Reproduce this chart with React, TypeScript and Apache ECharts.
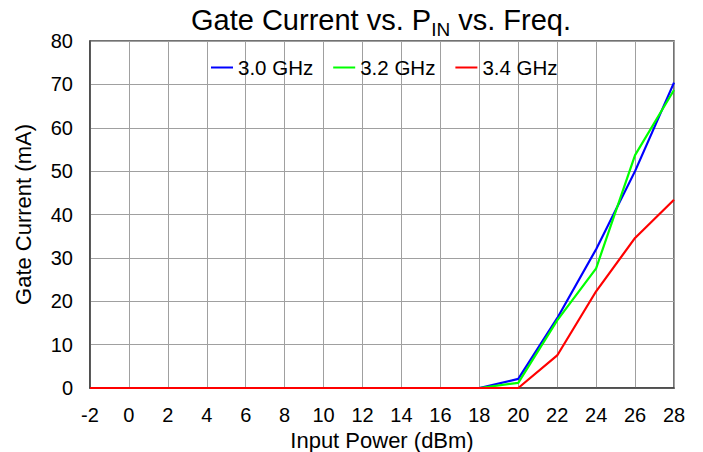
import React, { useEffect, useRef } from "react";
import * as echarts from "echarts";

const inputPower = [-2, 0, 2, 4, 6, 8, 10, 12, 14, 16, 18, 20, 22, 24, 26, 28];
const ghz30 = [0, 0, 0, 0, 0, 0, 0, 0, 0, 0, 0, 2.1, 16.1, 32.0, 50.0, 70.4];
const ghz32 = [0, 0, 0, 0, 0, 0, 0, 0, 0, 0, 0, 1.2, 15.6, 27.6, 53.7, 68.7];
const ghz34 = [0, 0, 0, 0, 0, 0, 0, 0, 0, 0, 0, 0, 7.5, 22.3, 34.6, 43.4];
const seriesNames = ["3.0 GHz", "3.2 GHz", "3.4 GHz"];
const seriesColors = ["#0000ff", "#00ff00", "#ff0000"];

const FONT = "Liberation Sans, Arial, sans-serif";

export default function App() {
  const ref = useRef<HTMLDivElement>(null);
  useEffect(() => {
    if (!ref.current) return;
    const chart = echarts.init(ref.current, undefined, { renderer: "svg" });
    const datasets = [ghz30, ghz32, ghz34];
    chart.setOption({
      animation: false,
      backgroundColor: "#ffffff",
      textStyle: { fontFamily: FONT },
      title: {
        text: "{a|Gate Current vs. P}{b|IN}{a| vs. Freq.}",
        left: 381,
        textAlign: "center",
        top: 0,
        padding: [0, 0, 0, 0],
        textStyle: {
          fontWeight: "normal",
          rich: {
            a: { fontSize: 29, color: "#000", fontFamily: FONT, fontWeight: "normal", verticalAlign: "bottom", lineHeight: 34 },
            b: { fontSize: 19, color: "#000", fontFamily: FONT, fontWeight: "normal", verticalAlign: "bottom", lineHeight: 34, padding: [0, 0, -5, 0] },
          },
        },
      },
      legend: {
        top: 52,
        left: 206,
        data: seriesNames,
        icon: "rect",
        itemWidth: 22,
        itemHeight: 2,
        itemGap: 20,
        textStyle: { fontSize: 20.5, color: "#000", fontFamily: FONT },
      },
      grid: {
        left: 90,
        right: 29,
        top: 41,
        bottom: 64,
        show: true,
        borderColor: "#444",
        borderWidth: 1.5,
        containLabel: false,
        outerBoundsMode: "none",
      },
      xAxis: {
        type: "value",
        min: -2,
        max: 28,
        interval: 2,
        name: "Input Power (dBm)",
        nameLocation: "middle",
        nameGap: 35,
        nameTextStyle: { fontSize: 22, color: "#000", fontFamily: FONT },
        axisLine: { show: true, onZero: false, lineStyle: { color: "#444", width: 1.5 } },
        axisTick: { show: false },
        axisLabel: { fontSize: 20, color: "#000", margin: 17, fontFamily: FONT },
        splitLine: { show: true, lineStyle: { color: "#a0a0a0", width: 1 } },
      },
      yAxis: {
        type: "value",
        min: 0,
        max: 80,
        interval: 10,
        name: "Gate Current (mA)",
        nameLocation: "middle",
        nameGap: 56,
        nameTextStyle: { fontSize: 22, color: "#000", fontFamily: FONT },
        axisLine: { show: true, onZero: false, lineStyle: { color: "#444", width: 1.5 } },
        axisTick: { show: false },
        axisLabel: { fontSize: 20, color: "#000", margin: 17, fontFamily: FONT },
        splitLine: { show: true, lineStyle: { color: "#a0a0a0", width: 1 } },
      },
      series: datasets.map((d, i) => ({
        name: seriesNames[i],
        type: "line",
        data: inputPower.map((x, j) => [x, d[j]]),
        showSymbol: false,
        symbol: "none",
        color: seriesColors[i],
        lineStyle: { width: 2.2, color: seriesColors[i] },
        z: 3 + i,
      })),
    });
    return () => chart.dispose();
  }, []);
  return <div ref={ref} style={{ width: 703, height: 452, position: "absolute", left: 0, top: 0 }} />;
}
